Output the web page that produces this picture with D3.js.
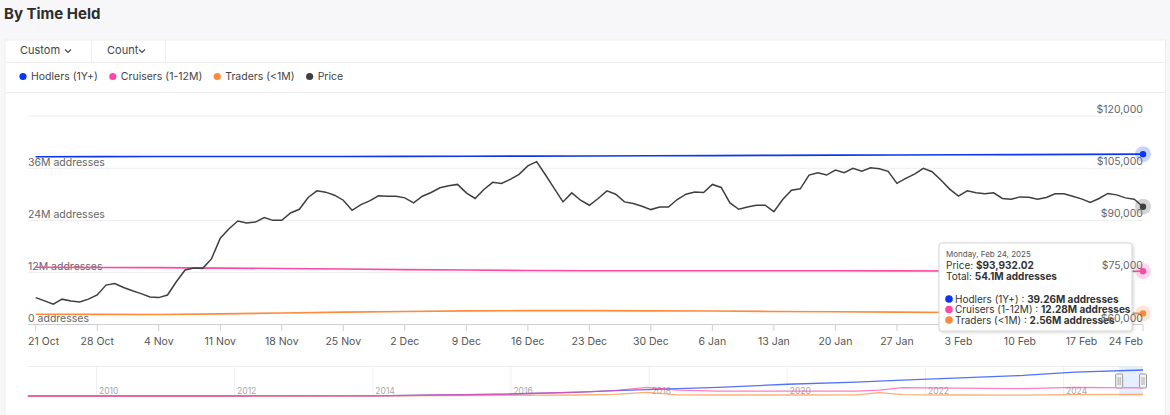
<!DOCTYPE html>
<html>
<head>
<meta charset="utf-8">
<script src="https://cdn.jsdelivr.net/npm/d3@7"></script>
<style>
  body { margin: 0; background: #f7f7f9; font-family: Inter, "Noto Sans", sans-serif; }
  svg { display: block; }
</style>
</head>
<body>
<div class="chart"></div>
<script>
// daily BTC price, 21 Oct 2024 .. 24 Feb 2025
const priceStart = "2024-10-21"
const priceEnd = "2025-02-24"
const priceValues = [
  67750, 66800, 65830, 67300, 66800, 66500, 67300, 68500, 71350, 71800,
  70650, 69700, 68900, 67950, 67750, 68500, 72300, 75700, 76270, 76170,
  78900, 84870, 87600, 89800, 89220, 89500, 90780, 90000, 90000, 92120,
  93190, 96580, 98500, 98120, 97250, 95800, 92900, 94550, 95600, 97050,
  96960, 96960, 96470, 95020, 96960, 98030, 99370, 99950, 100350, 97920,
  96300, 98900, 100940, 100650, 101800, 103260, 105670, 106920, 103140, 99230,
  95310, 97920, 95800, 94350, 96300, 98500, 97540, 95310, 94840, 94060,
  93100, 93860, 93860, 96000, 97540, 98150, 98030, 100350, 99480, 95020,
  93190, 93860, 94350, 94350, 92520, 96000, 98700, 99080, 103050, 103720,
  103050, 104500, 103720, 105000, 104130, 105170, 104880, 104130, 100650, 102100,
  103300, 105000, 104020, 101600, 99000, 96960, 98500, 97920, 97630, 97920,
  96300, 96090, 96760, 96670, 96090, 96580, 97630, 97630, 96960, 96180,
  95130, 96300, 97750, 97340, 96470, 96090, 93932.02
]

// weekly address counts (millions), Mondays 21 Oct .. 24 Feb
const hodlers = [38.65, 38.68, 38.70, 38.72, 38.70, 38.72, 38.74, 38.78, 38.80, 38.84,
  38.88, 38.92, 38.98, 39.02, 39.06, 39.10, 39.15, 39.20, 39.26]
const cruisers = [13.18, 13.15, 13.10, 13.00, 12.90, 12.80, 12.65, 12.55, 12.45, 12.40,
  12.40, 12.38, 12.40, 12.38, 12.35, 12.32, 12.30, 12.30, 12.28]
const traders = [2.35, 2.33, 2.32, 2.45, 2.65, 2.85, 3.00, 3.15, 3.20, 3.20,
  3.15, 3.10, 3.00, 2.95, 2.85, 2.75, 2.70, 2.62, 2.56]

// navigator (full history, millions)
const navDates = ["2009-01-03", "2012-01-01", "2014-01-01", "2015-01-01", "2016-01-01",
  "2017-01-01", "2017-07-01", "2017-12-20", "2018-06-01", "2019-01-01", "2020-01-01",
  "2021-01-01", "2021-05-01", "2021-09-01", "2022-06-01", "2023-06-01", "2024-03-01", "2025-02-24"]
const navHodlers = [0, 0, 0.3, 1.5, 3, 6, 8, 9.5, 11, 13, 17.7, 21, 22.5, 24, 27, 31, 36, 39.26]
const navCruisers = [0, 0, 0.3, 1.5, 3, 6, 8, 13, 9, 7.5, 7.3, 7.5, 9, 12.5, 12, 11, 13, 12.28]
const navTraders = [0, 0, 0.2, 0.5, 0.8, 1.5, 2.5, 5.6, 1.8, 1.5, 1.5, 1.7, 5, 2, 1.5, 1.4, 2, 2.56]
const navYears = [2010, 2012, 2014, 2016, 2018, 2020, 2022, 2024]

const leftTicks = [0, 12, 24, 36]
const rightTicks = [60000, 75000, 90000, 105000, 120000]

const seriesNames = ["Hodlers (1Y+)", "Cruisers (1-12M)", "Traders (<1M)", "Price"]
const colors = {
  hodlers: "#0a36f5",
  cruisers: "#ff47a3",
  traders: "#ff8a3d",
  price: "#3f3f3f",
  grid: "#ededed",
  text: "#666"
}
const seriesColors = [colors.hodlers, colors.cruisers, colors.traders, colors.price]

const width = 1170
const height = 415
const parse = d3.timeParse("%Y-%m-%d")

const days = d3.timeDay.range(parse(priceStart), d3.timeDay.offset(parse(priceEnd), 1))
const priceData = days.map((d, i) => ({ date: d, value: priceValues[i] }))
const weeks = d3.timeMonday.range(parse(priceStart), d3.timeDay.offset(parse(priceEnd), 1))
const weekly = arr => weeks.map((d, i) => ({ date: d, value: arr[i] }))

const xScale = d3.scaleTime()
  .domain([parse(priceStart), parse(priceEnd)])
  .range([35.7, 1143])
const yLeft = d3.scaleLinear().domain([0, 48]).range([324.5, 116.2])
const yRight = d3.scaleLinear().domain([60000, 120000]).range([324.5, 116.2])

const svg = d3.select(".chart").append("svg")
  .attr("width", width)
  .attr("height", height)
  .style("font-family", "Inter, 'Noto Sans', sans-serif")

const defs = svg.append("defs")
const shadow = defs.append("filter").attr("id", "shadow")
  .attr("x", "-10%").attr("y", "-10%").attr("width", "130%").attr("height", "140%")
shadow.append("feDropShadow")
  .attr("dx", 1).attr("dy", 1).attr("stdDeviation", 1.5)
  .attr("flood-color", "#000").attr("flood-opacity", 0.18)

// page title
svg.append("text")
  .attr("x", 4).attr("y", 19)
  .attr("font-size", 15).attr("font-weight", 700)
  .attr("fill", "#2d2d2d")
  .text("By Time Held")

// white panel
svg.append("rect")
  .attr("x", 5).attr("y", 40)
  .attr("width", 1160.5).attr("height", 380)
  .attr("fill", "#fff")
  .attr("stroke", "#eeeeee")

// toolbar
const toolbar = svg.append("g")
toolbar.append("text").attr("x", 20).attr("y", 53.5)
  .attr("font-size", 11).attr("fill", "#444").text("Custom")
toolbar.append("path").attr("d", "M65,49.5 l3,3 l3,-3")
  .attr("fill", "none").attr("stroke", "#444").attr("stroke-width", 1.1)
toolbar.append("text").attr("x", 107).attr("y", 53.5)
  .attr("font-size", 11).attr("fill", "#444").text("Count")
toolbar.append("path").attr("d", "M139,49.5 l3,3 l3,-3")
  .attr("fill", "none").attr("stroke", "#444").attr("stroke-width", 1.1)
toolbar.selectAll(".sep")
  .data([91.5, 165.5])
  .join("line")
    .attr("x1", d => d).attr("x2", d => d)
    .attr("y1", 40).attr("y2", 62)
    .attr("stroke", "#eeeeee")
svg.selectAll(".hsep")
  .data([62.5, 92.5])
  .join("line")
    .attr("x1", 5).attr("x2", 1165.5)
    .attr("y1", d => d).attr("y2", d => d)
    .attr("stroke", "#eeeeee")

// legend
const legend = svg.append("g")
let lx = 23
seriesNames.forEach((name, i) => {
  legend.append("circle")
    .attr("cx", lx).attr("cy", 76.5).attr("r", 3.6)
    .attr("fill", seriesColors[i])
  const t = legend.append("text")
    .attr("x", lx + 8).attr("y", 80.3)
    .attr("font-size", 10.5).attr("fill", "#444")
    .text(name)
  lx = lx + 8 + t.node().getComputedTextLength() + 15
})

// grid
svg.append("g").selectAll("line")
  .data([0, 12, 24, 36, 48])
  .join("line")
    .attr("x1", 28).attr("x2", 1143)
    .attr("y1", d => yLeft(d)).attr("y2", d => yLeft(d))
    .attr("stroke", colors.grid)

// left labels
svg.append("g").selectAll("text")
  .data(leftTicks)
  .join("text")
    .attr("x", 28).attr("y", d => yLeft(d) - 2.5)
    .attr("font-size", 10.5).attr("fill", colors.text)
    .text(d => d === 0 ? "0 addresses" : `${d}M addresses`)

// x axis
const tickDates = weeks
const xAxis = svg.append("g")
xAxis.append("line")
  .attr("x1", 28).attr("x2", 1143)
  .attr("y1", 324.5).attr("y2", 324.5)
  .attr("stroke", "#cfcfcf")
xAxis.selectAll(".tick")
  .data(tickDates)
  .join("line")
    .attr("x1", d => xScale(d)).attr("x2", d => xScale(d))
    .attr("y1", 324.5).attr("y2", 331)
    .attr("stroke", "#cfcfcf")
const fmt = d3.timeFormat("%-d %b")
xAxis.selectAll(".lbl")
  .data(tickDates)
  .join("text")
    .attr("font-size", 10.5).attr("fill", "#555")
    .attr("y", 344.5)
    .text(d => fmt(d))
    .each(function(d) {
      const w = this.getComputedTextLength()
      let x = xScale(d) - w / 2
      x = Math.max(28, Math.min(1143 - w, x))
      d3.select(this).attr("x", x)
    })

// series lines
const addrLine = d3.line()
  .x(d => xScale(d.date))
  .y(d => yLeft(d.value))
const priceLine = d3.line()
  .x(d => xScale(d.date))
  .y(d => yRight(d.value))

const addrSeries = [
  { data: weekly(hodlers), color: colors.hodlers },
  { data: weekly(cruisers), color: colors.cruisers },
  { data: weekly(traders), color: colors.traders }
]
svg.append("g").selectAll("path")
  .data(addrSeries)
  .join("path")
    .attr("d", d => addrLine(d.data))
    .attr("fill", "none")
    .attr("stroke", d => d.color)
    .attr("stroke-width", 1.6)
svg.append("path")
  .attr("d", priceLine(priceData))
  .attr("fill", "none")
  .attr("stroke", colors.price)
  .attr("stroke-width", 1.5)

// hover markers at last point
const lastDate = parse(priceEnd)
const markers = [
  { y: yLeft(hodlers[hodlers.length - 1]), color: colors.hodlers },
  { y: yRight(priceValues[priceValues.length - 1]), color: colors.price },
  { y: yLeft(cruisers[cruisers.length - 1]), color: colors.cruisers },
  { y: yLeft(traders[traders.length - 1]), color: colors.traders }
]
const mk = svg.append("g")
mk.selectAll(".halo")
  .data(markers)
  .join("circle")
    .attr("cx", xScale(lastDate)).attr("cy", d => d.y).attr("r", 8)
    .attr("fill", d => d.color).attr("fill-opacity", 0.22)
mk.selectAll(".dot")
  .data(markers)
  .join("circle")
    .attr("cx", xScale(lastDate)).attr("cy", d => d.y).attr("r", 3.2)
    .attr("fill", d => d.color)

// tooltip
const last = a => a[a.length - 1]
const tip = svg.append("g").attr("transform", "translate(939,243)")
tip.append("rect")
  .attr("width", 193).attr("height", 88).attr("rx", 3)
  .attr("fill", "#fff").attr("stroke", "#d6d6d6")
  .attr("filter", "url(#shadow)")
tip.append("text").attr("x", 7).attr("y", 14)
  .attr("font-size", 8).attr("fill", "#555")
  .text(d3.timeFormat("%A, %b %-d, %Y")(lastDate))
const tipLine = (y, label, value) => {
  const t = tip.append("text").attr("x", 7).attr("y", y)
    .attr("font-size", 10).attr("fill", "#333")
  t.append("tspan").text(label)
  t.append("tspan").attr("font-weight", 700).text(value)
  return t
}
tipLine(25.5, "Price: ", d3.format("$,.2f")(last(priceValues)))
tipLine(36.5, "Total: ", `${d3.format(".1f")(last(hodlers) + last(cruisers) + last(traders))}M addresses`)
const tipItems = [
  [seriesNames[0], last(hodlers), colors.hodlers],
  [seriesNames[1], last(cruisers), colors.cruisers],
  [seriesNames[2], last(traders), colors.traders]
]
tipItems.forEach(([name, v, c], i) => {
  const y = 59.5 + i * 10.5
  tip.append("circle").attr("cx", 10).attr("cy", y - 3.5).attr("r", 3.8).attr("fill", c)
  const t = tipLine(y, `${name} : `, `${d3.format(".2f")(v)}M addresses`)
  t.attr("x", 16)
})

// right labels (on top, as in the reference)
svg.append("g").selectAll("text")
  .data(rightTicks)
  .join("text")
    .attr("x", 1143).attr("y", d => yRight(d) - 3)
    .attr("text-anchor", "end")
    .attr("font-size", 10.5).attr("fill", colors.text)
    .text(d => d3.format("$,")(d))

// navigator
const navX = d3.scaleTime()
  .domain([parse("2009-01-01"), parse(priceEnd)])
  .range([27.5, 1143])
const navY = d3.scaleLinear().domain([0, 40]).range([396, 369.5])
const nav = svg.append("g")
nav.append("line")
  .attr("x1", 27.5).attr("x2", 1143)
  .attr("y1", 366.5).attr("y2", 366.5)
  .attr("stroke", "#eeeeee")
nav.selectAll(".ygrid")
  .data(navYears)
  .join("line")
    .attr("x1", d => navX(new Date(d, 0, 1))).attr("x2", d => navX(new Date(d, 0, 1)))
    .attr("y1", 366.5).attr("y2", 396)
    .attr("stroke", "#f0f0f0")
nav.selectAll(".ylbl")
  .data(navYears)
  .join("text")
    .attr("x", d => navX(new Date(d, 0, 1)) + 2.5).attr("y", 393.5)
    .attr("font-size", 8.5).attr("fill", "#a8a8a8")
    .text(d => d)
nav.append("rect")
  .attr("x", navX(parse(priceStart))).attr("y", 366.5)
  .attr("width", navX(parse(priceEnd)) - navX(parse(priceStart))).attr("height", 30)
  .attr("fill", "#d9e6ff").attr("fill-opacity", 0.65)
const navLine = d3.line()
  .x((d, i) => navX(parse(navDates[i])))
  .y(d => navY(d))
nav.selectAll(".nline")
  .data([
    { data: navHodlers, color: colors.hodlers },
    { data: navTraders, color: colors.traders },
    { data: navCruisers, color: colors.cruisers }
  ])
  .join("path")
    .attr("d", d => navLine(d.data))
    .attr("fill", "none")
    .attr("stroke", d => d.color)
    .attr("stroke-opacity", 0.7)
    .attr("stroke-width", 1.3)
nav.selectAll(".handle")
  .data([navX(parse(priceStart)), navX(parse(priceEnd))])
  .join("g")
    .attr("transform", d => `translate(${d},381)`)
    .call(g => g.append("rect")
      .attr("x", -3.5).attr("y", -7).attr("width", 7).attr("height", 14).attr("rx", 1)
      .attr("fill", "#f2f2f2").attr("stroke", "#999"))
    .call(g => g.append("path")
      .attr("d", "M-1,-4 V4 M1,-4 V4")
      .attr("stroke", "#999").attr("stroke-width", 0.8))
</script>
</body>
</html>
